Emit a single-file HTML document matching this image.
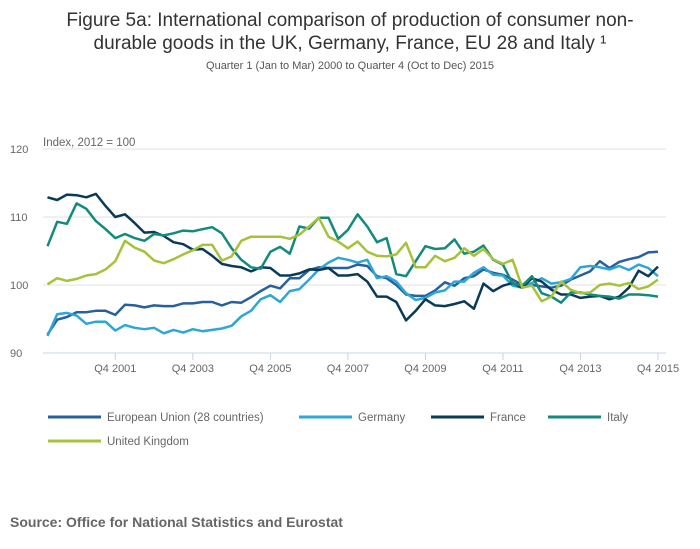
<!DOCTYPE html>
<html><head><meta charset="utf-8"><style>
body{margin:0;background:#fff;font-family:"Liberation Sans",sans-serif;}
#wrap{position:relative;width:700px;height:549px;overflow:hidden;}
</style></head><body>
<div id="wrap">
<svg id="chart" width="700" height="549" xmlns="http://www.w3.org/2000/svg">
<text x="350" y="26" text-anchor="middle" font-size="19" fill="#333">Figure 5a: International comparison of production of consumer non-</text>
<text x="350" y="49" text-anchor="middle" font-size="19" fill="#333">durable goods in the UK, Germany, France, EU 28 and Italy ¹</text>
<text x="350" y="69" text-anchor="middle" font-size="11" fill="#555">Quarter 1 (Jan to Mar) 2000 to Quarter 4 (Oct to Dec) 2015</text>
<text x="43" y="146" font-size="11.5" fill="#666">Index, 2012 = 100</text>
<g id="grid"></g><g id="xaxis"></g><g id="series"></g><g id="legend"></g>
<text x="10" y="527" font-size="14" font-weight="bold" fill="#666">Source: Office for National Statistics and Eurostat</text>
</svg>
</div>
<script>
const yTicks=[120,110,100,90];
const xTickLabels=["Q4 2001","Q4 2003","Q4 2005","Q4 2007","Q4 2009","Q4 2011","Q4 2013","Q4 2015"];
const xTickIdx=[7,15,23,31,39,47,55,63];
const seriesNames=["European Union (28 countries)","Germany","France","Italy","United Kingdom"];
const seriesColors=["#27609a","#2ea6d6","#0b3a57","#138a7a","#a6c23a"];
const euValues=[92.7,94.9,95.3,96,96,96.2,96.2,95.6,97.1,97,96.7,97,96.9,96.9,97.3,97.3,97.5,97.5,97,97.5,97.4,98.2,99.1,99.9,99.5,101,101,102.2,102.6,102.5,102.5,102.5,103,102.8,101.3,101,100,98.6,98.4,98.4,99.2,100.4,99.9,101,101.3,102.3,101.8,101.5,100.8,100,100,99.8,99.6,99.9,100.8,101.4,102,103.5,102.5,103.4,103.8,104.1,104.8,104.9];
const deValues=[92.5,95.7,95.9,95.5,94.3,94.6,94.6,93.3,94.1,93.7,93.5,93.7,92.9,93.4,93,93.5,93.2,93.4,93.6,94,95.4,96.2,97.9,98.5,97.5,99.1,99.4,100.8,102.3,103.3,104,103.7,103.3,103.7,101,101.3,100.5,98.8,97.8,98.1,98.9,99.2,100.5,100.5,101.8,102.6,101.5,101.4,99.9,99.6,100.3,101,100.2,100.4,100.9,102.6,102.8,102.6,102.3,102.8,102.2,103,102.5,101.3];
const frValues=[112.9,112.5,113.3,113.2,112.9,113.4,111.6,110,110.4,109.1,107.7,107.8,107.2,106.3,106,105.2,105.3,104.3,103.1,102.8,102.6,102,102.6,102.5,101.4,101.4,101.7,102.3,102.2,102.5,101.4,101.4,101.6,100.5,98.3,98.3,97.5,94.8,96.2,97.9,97,96.9,97.2,97.6,96.5,100.2,99.1,99.9,100.3,99.6,101,100.5,99.3,98.6,98.6,98.1,98.3,98.4,97.9,98.3,99.6,102.1,101.3,102.7];
const itValues=[105.7,109.3,109,112,111.2,109.4,108.2,106.9,107.5,106.9,106.5,107.5,107.3,107.6,108,107.9,108.2,108.5,107.6,105.4,103.7,102.6,102.4,104.9,105.6,104.6,108.6,108.3,109.9,109.9,106.8,108.1,110.4,108.6,106.3,106.9,101.6,101.3,103.5,105.7,105.3,105.4,106.7,104.6,104.9,105.8,103.7,103,100.2,99.9,101.3,98.8,98.3,97.4,98.9,98.9,98.6,98.4,98.3,98,98.6,98.6,98.5,98.3];
const ukValues=[100.1,101,100.6,100.9,101.4,101.6,102.3,103.5,106.5,105.5,104.9,103.6,103.2,103.8,104.5,105.1,105.9,105.9,103.6,104.2,106.5,107.1,107.1,107.1,107.1,106.8,107.4,108.6,109.9,107.1,106.4,105.4,106.4,104.9,104.3,104.2,104.5,106.2,102.6,102.6,104.3,103.5,104,105.4,104.3,105.3,103.8,103.1,103.7,99.6,99.9,97.6,98.3,100.5,99.3,98.8,98.9,100,100.2,99.9,100.3,99.4,99.8,100.8];
const allSeries=[euValues,deValues,frValues,itValues,ukValues];
const NS="http://www.w3.org/2000/svg";
const xScale=i=>47.5+i*9.69;
const yScale=v=>285-(v-100)*6.8;
function mk(tag,attrs,parent){const e=document.createElementNS(NS,tag);for(const k in attrs)e.setAttribute(k,attrs[k]);parent.appendChild(e);return e;}
const grid=document.getElementById('grid');
yTicks.forEach(t=>{
  const y=yScale(t);
  if(t!==90){const l=mk('line',{x1:43,x2:666,y1:y,y2:y,stroke:'#e0e0e0','stroke-width':1},grid);
  
  }
  const tx=mk('text',{x:10,y:y+4,'font-size':11,fill:'#666'},grid);tx.textContent=t;
  
  
});
const xa=document.getElementById('xaxis');
const ax=mk('line',{x1:43,x2:666,y1:yScale(90),y2:yScale(90),stroke:'#c4d4e6','stroke-width':1},xa);


xTickIdx.forEach((idx,k)=>{
  const x=xScale(idx);
  const tk=mk('line',{x1:x,x2:x,y1:yScale(90),y2:yScale(90)+7,stroke:'#c4d4e6'},xa);
  
  
  const tx=mk('text',{x:x,y:372,'font-size':11,fill:'#666','text-anchor':'middle'},xa);tx.textContent=xTickLabels[k];
  
  
});
const sg=document.getElementById('series');
allSeries.forEach((vals,s)=>{
  const d=vals.map((v,i)=>(i?'L':'M')+xScale(i).toFixed(1)+' '+yScale(v).toFixed(1)).join(' ');
  const p=mk('path',{d:d,fill:'none',stroke:seriesColors[s],'stroke-width':2.5,'stroke-linejoin':'round'},sg);
  
  
});
const lg=document.getElementById('legend');
const legPos=[[48,417],[299,417],[431,417],[548,417],[48,441]];
seriesNames.forEach((n,s)=>{
  const [x,y]=legPos[s];
  const g=mk('g',{},lg);
  
  
  mk('line',{x1:x,x2:x+53,y1:y,y2:y,stroke:seriesColors[s],'stroke-width':3},g);
  const t=mk('text',{x:x+59,y:y+4,'font-size':11.5,fill:'#666'},g);t.textContent=n;
});
</script>
</body></html>
